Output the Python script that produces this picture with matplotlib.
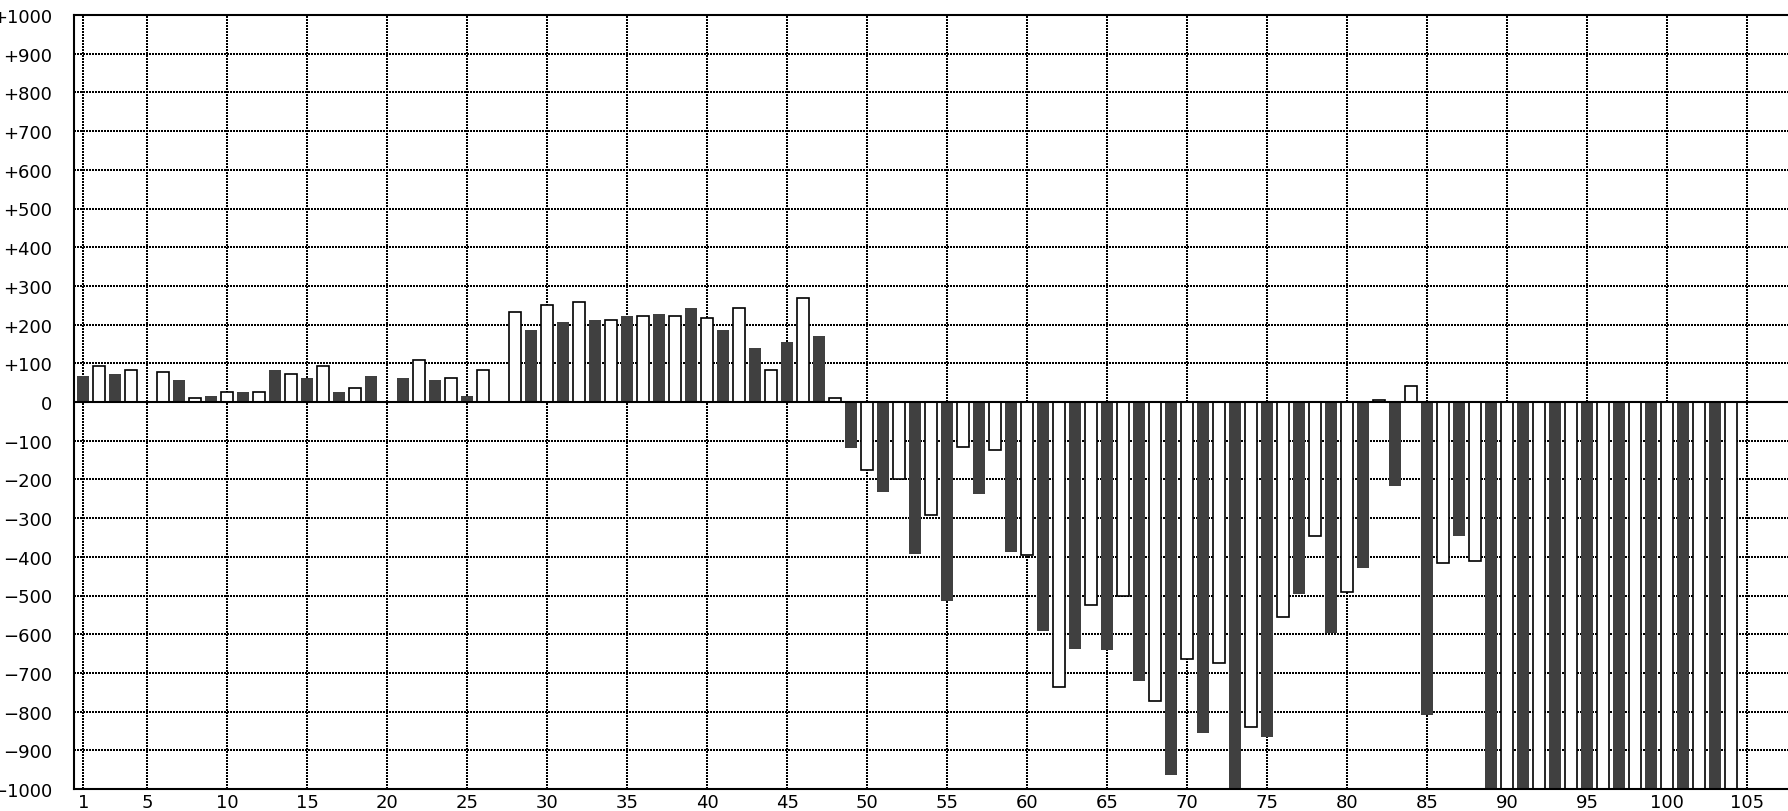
import numpy as np
import matplotlib
matplotlib.use("Agg")
import matplotlib.pyplot as plt

# ---- data ----
positions = list(range(1, 105))
values = [
    67, 94, 73, 83, 0, 78, 56, 10, 15, 26,
    25, 26, 82, 73, 61, 94, 25, 36, 67, 0,
    61, 109, 56, 62, 15, 83, 0, 233, 186, 250,
    206, 259, 212, 212, 222, 223, 227, 223, 243, 218,
    186, 244, 139, 83, 155, 270, 170, 11, -119, -177,
    -233, -198, -394, -291, -513, -115, -238, -125, -388, -395,
    -591, -736, -637, -524, -642, -502, -720, -773, -964, -663,
    -855, -675, -1000, -841, -865, -556, -497, -347, -596, -492,
    -430, 5, -218, 42, -808, -415, -347, -410, -1000, -1000,
    -1000, -1000, -1000, -1000, -1000, -1000, -1000, -1000, -1000, -1000,
    -1000, -1000, -1000, -1000,
]
x_ticks = [1, 5, 10, 15, 20, 25, 30, 35, 40, 45, 50, 55, 60, 65, 70, 75,
           80, 85, 90, 95, 100, 105]
y_ticks = list(range(-1000, 1001, 100))

DARK = "#404040"

W, H, DPI = 1788, 812, 100
fig = plt.figure(figsize=(W / DPI, H / DPI), dpi=DPI)
fig.patch.set_facecolor("white")

left_px, right_px = 73.5, 1795.0
top_px, bottom_px = 16.0, 790.0
ax = fig.add_axes([left_px / W, (H - bottom_px) / H,
                   (right_px - left_px) / W, (bottom_px - top_px) / H])

px_per_unit = 16.0
x0 = 1 - (83.3 - left_px) / px_per_unit
ax.set_xlim(x0, x0 + (right_px - left_px) / px_per_unit)
ax.set_ylim(-1000, 1000)

dark_pos = [p for p in positions if p % 2 == 1]
dark_val = [v for p, v in zip(positions, values) if p % 2 == 1]
white_pos = [p for p in positions if p % 2 == 0]
white_val = [v for p, v in zip(positions, values) if p % 2 == 0]

ax.bar(dark_pos, dark_val, width=0.74, color=DARK, edgecolor="none",
       linewidth=0, zorder=2)
ax.bar(white_pos, white_val, width=0.74, color="white", edgecolor="black",
       linewidth=1.2, zorder=2)

ax.axhline(0, color="black", linewidth=1.5, zorder=3)

ax.set_axisbelow(True)
ax.grid(True, color="black", linewidth=1.44, linestyle=(0, (1, 1)),
        antialiased=False)

ax.set_xticks(x_ticks)
ax.set_xticklabels([str(t) for t in x_ticks])
ax.set_yticks(y_ticks)


def ylab(v):
    if v == 0:
        return "0"
    return ("+" if v > 0 else "\u2212") + str(abs(v))


ax.set_yticklabels([ylab(v) for v in y_ticks])
ax.tick_params(axis="both", length=0, labelsize=13, colors="black")
ax.tick_params(axis="y", pad=15.3)
ax.tick_params(axis="x", pad=3.0)

for side in ["left", "top", "bottom"]:
    ax.spines[side].set_linewidth(1.5)
    ax.spines[side].set_color("black")
    ax.spines[side].set_zorder(4)
ax.spines["right"].set_visible(False)

fig.savefig("out.png", dpi=DPI)
